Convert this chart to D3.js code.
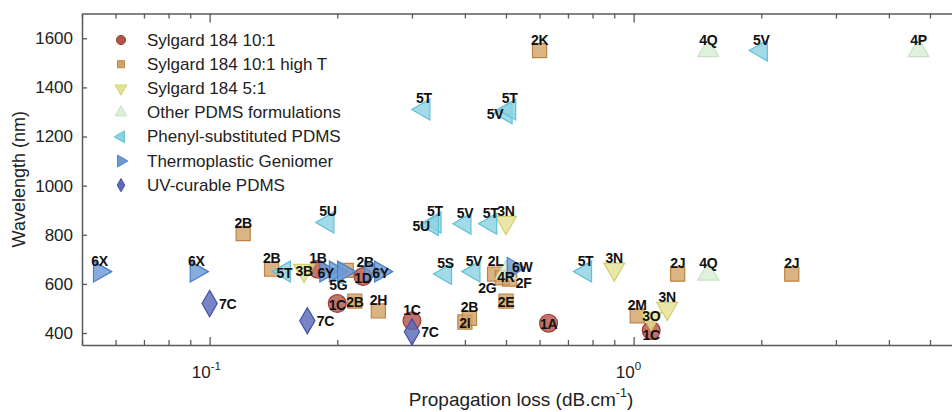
<!DOCTYPE html>
<html>
<head>
<meta charset="utf-8">
<script src="https://cdn.jsdelivr.net/npm/d3@7"></script>
<style>
  body { margin: 0; background: #fff; }
  svg { display: block; font-family: "Liberation Sans", Arial, sans-serif; }
</style>
</head>
<body>
<svg id="chart" width="952" height="412"></svg>
<script>
// series: [loss (dB/cm), wavelength (nm), reference tag]
const sylgard101 = [
    [0.18, 660, "1B"], [0.20, 520, "1C"], [0.23, 630, "1D"],
    [0.30, 450, "1C"], [0.63, 440, "1A"], [1.10, 410, "1C"]
];
const sylgardHighT = [
    [0.12, 805, "2B"], [0.14, 660, "2B"], [0.21, 655, "2B"], [0.22, 530, "2B"],
    [0.25, 490, "2H"], [0.40, 445, "2I"], [0.41, 460, "2B"], [0.47, 640, "2L"],
    [0.49, 625, "2G"], [0.51, 620, "2F"], [0.50, 530, "2E"], [0.60, 1550, "2K"],
    [1.02, 470, "2M"], [1.27, 640, "2J"], [2.36, 640, "2J"]
];
const sylgard51 = [
    [0.167, 655, "3B"], [0.50, 850, "3N"], [0.90, 660, "3N"], [1.20, 500, "3N"], [1.10, 460, "3O"]
];
const otherPdms = [
    [0.50, 645, "4R"], [1.50, 1550, "4Q"], [4.70, 1550, "4P"], [1.50, 640, "4Q"]
];
const phenyl = [
    [0.15, 650, "5T"], [0.19, 850, "5U"], [0.20, 640, "5G"], [0.32, 1310, "5T"],
    [0.34, 850, "5T"], [0.335, 840, "5U"], [0.36, 640, "5S"], [0.40, 845, "5V"],
    [0.42, 650, "5V"], [0.46, 845, "5T"], [0.50, 1295, "5V"], [0.51, 1310, "5T"],
    [0.77, 650, "5T"], [2.0, 1550, "5V"]
];
const thermoplastic = [
    [0.055, 650, "6X"], [0.093, 650, "6X"], [0.188, 650, "6Y"], [0.198, 650, "6Y"],
    [0.207, 650, "6Y"], [0.240, 650, "6Y"], [0.253, 650, "6Y"], [0.52, 665, "6W"]
];
const uvCurable = [
    [0.10, 520, "7C"], [0.17, 450, "7C"], [0.30, 405, "7C"]
];

// where each tag sits relative to its marker (n=above, c=on, e=right, r=just right, w=left, s=below, "-"=hidden)
const labelPlace = {
    sylgard101:    ["n", "c", "c", "n", "c", "cs"],
    sylgardHighT:  ["n", "n", "ne", "c", "n", "c", "n", "nn", "sw", "se", "c", "n", "n", "n", "n"],
    sylgard51:     ["c", "n", "n", "n", "cn"],
    otherPdms:     ["cs", "n", "n", "n"],
    phenyl:        ["c", "n", "s", "n", "n", "w", "n", "n", "n", "n", "w", "n", "n", "n"],
    thermoplastic: ["n", "n", "c", "-", "-", "-", "c", "r"],
    uvCurable:     ["e", "e", "e"]
};

const seriesNames = ["Sylgard 184 10:1", "Sylgard 184 10:1 high T", "Sylgard 184 5:1",
    "Other PDMS formulations", "Phenyl-substituted PDMS", "Thermoplastic Geniomer", "UV-curable PDMS"];
const seriesData = [sylgard101, sylgardHighT, sylgard51, otherPdms, phenyl, thermoplastic, uvCurable];
const seriesKeys = ["sylgard101", "sylgardHighT", "sylgard51", "otherPdms", "phenyl", "thermoplastic", "uvCurable"];

const yTicks = [400, 600, 800, 1000, 1200, 1400, 1600];
const xMajor = [{ v: 0.1, exp: "-1" }, { v: 1, exp: "0" }];

const styles = [
    { sym: d3.symbolCircle,   rot: 0,   size: 250, fill: "#b4554b", stroke: "#9c3c36" },
    { sym: d3.symbolSquare,   rot: 0,   size: 200, fill: "#d2a36a", stroke: "#bb8544" },
    { sym: d3.symbolTriangle, rot: 180, size: 190, fill: "#e4e294", stroke: "#d4cf6c" },
    { sym: d3.symbolTriangle, rot: 0,   size: 190, fill: "#d9efd6", stroke: "#c6e4c2" },
    { sym: d3.symbolTriangle, rot: -90, size: 190, fill: "#8dd2e2", stroke: "#5fc0d8" },
    { sym: d3.symbolTriangle, rot: 90,  size: 190, fill: "#6c9ad6", stroke: "#4a7fc8" },
    { sym: d3.symbolDiamond,  rot: 0,   size: 200, fill: "#5b69b7", stroke: "#4252a6" }
];
const legendSizes = [66, 50, 60, 60, 60, 60, 50];
const offsets = {
    n: [0, -11], nn: [1, -13], c: [0, 1], cs: [0, 4], cn: [0, -2], e: [18, 0], r: [9, -1],
    w: [-11, 1], s: [1, 11], ne: [19, -8], se: [14, 4], sw: [-15, 10]
};

const svg = d3.select("#chart");
const margin = { top: 13.5, left: 82, bottom: 345 };
const x = d3.scaleLog().domain([0.05, 6]).range([82, 82 + 424 * Math.log10(120)]);
const y = d3.scaleLinear().domain([350, 1700]).range([345.3, 13.7]);
const axisColor = "#5a5a5a";

const minorX = x.ticks().filter(v => v >= 0.05 && v <= 6);

// bottom axis, ticks pointing into the plot
const gx = svg.append("g").attr("transform", `translate(0,${margin.bottom})`)
    .call(d3.axisBottom(x).tickValues(minorX).tickSizeInner(-5).tickSizeOuter(0).tickFormat(""));
gx.selectAll("line").attr("y2", d => (d === 0.1 || d === 1) ? -8 : -5);

// top axis
const gt = svg.append("g").attr("transform", `translate(0,${margin.top})`)
    .call(d3.axisTop(x).tickValues(minorX).tickSizeInner(-5).tickSizeOuter(0).tickFormat(""));
gt.selectAll("line").attr("y2", d => (d === 0.1 || d === 1) ? 9 : 5);

// left axis
const gy = svg.append("g").attr("transform", `translate(${margin.left},0)`)
    .call(d3.axisLeft(y).tickValues(yTicks).tickSizeInner(-5).tickSizeOuter(0).tickFormat(d3.format("d")));
gy.selectAll("text").attr("font-size", 17).attr("fill", "#222").attr("x", -9);

[gx, gt, gy].forEach(g => {
    g.select(".domain").attr("stroke", axisColor).attr("stroke-width", 1.5);
    g.selectAll(".tick line").attr("stroke", axisColor).attr("stroke-width", 1.3);
    g.attr("font-family", null);
});

// power-of-ten labels
xMajor.forEach(t => {
    svg.append("text").attr("x", x(t.v) + 1).attr("y", 378).attr("text-anchor", "end")
        .attr("font-size", 17).attr("fill", "#222").text("10");
    svg.append("text").attr("x", x(t.v) + 1).attr("y", 370).attr("font-size", 11.5).attr("fill", "#222").text(t.exp);
});

// axis titles
const xt = svg.append("text").attr("x", 521).attr("y", 406).attr("text-anchor", "middle")
    .attr("font-size", 19).attr("fill", "#222");
xt.append("tspan").text("Propagation loss (dB.cm");
xt.append("tspan").attr("font-size", 12.5).attr("dy", -9).text("-1");
xt.append("tspan").attr("dy", 9).text(")");

svg.append("text").attr("transform", `translate(25,${(13.5 + 345) / 2}) rotate(-90)`)
    .attr("text-anchor", "middle").attr("font-size", 18).attr("fill", "#222")
    .text("Wavelength (nm)");

// markers
const plot = svg.append("g");
seriesData.forEach((rows, i) => {
    const st = styles[i];
    plot.append("g").selectAll("path")
        .data(rows)
        .enter().append("path")
        .attr("transform", d => `translate(${x(d[0])},${y(d[1])}) rotate(${st.rot})`)
        .attr("d", d3.symbol().type(st.sym).size(st.size))
        .attr("fill", st.fill)
        .attr("fill-opacity", 0.82)
        .attr("stroke", st.stroke)
        .attr("stroke-width", 1.2);
});

// reference tags
seriesData.forEach((rows, i) => {
    const places = labelPlace[seriesKeys[i]];
    const tags = rows.map((d, j) => ({ d, p: places[j] })).filter(o => o.p !== "-");
    plot.append("g").selectAll("text")
        .data(tags)
        .enter().append("text")
        .attr("x", o => x(o.d[0]) + offsets[o.p][0])
        .attr("y", o => y(o.d[1]) + offsets[o.p][1])
        .attr("text-anchor", "middle")
        .attr("dominant-baseline", "central")
        .attr("font-size", 14)
        .attr("font-weight", "bold")
        .attr("letter-spacing", -0.3)
        .attr("fill", "#111")
        .text(o => o.d[2]);
});

// legend
const legend = svg.append("g");
seriesNames.forEach((name, i) => {
    const st = styles[i];
    const ly = 40 + i * 24.2;
    legend.append("path")
        .attr("transform", `translate(121,${ly}) rotate(${st.rot})`)
        .attr("d", d3.symbol().type(st.sym).size(legendSizes[i]))
        .attr("fill", st.fill)
        .attr("stroke", st.stroke)
        .attr("stroke-width", 1);
    legend.append("text")
        .attr("x", 147).attr("y", ly)
        .attr("dominant-baseline", "central")
        .attr("font-size", 17)
        .attr("fill", "#222")
        .text(name);
});
</script>
</body>
</html>
